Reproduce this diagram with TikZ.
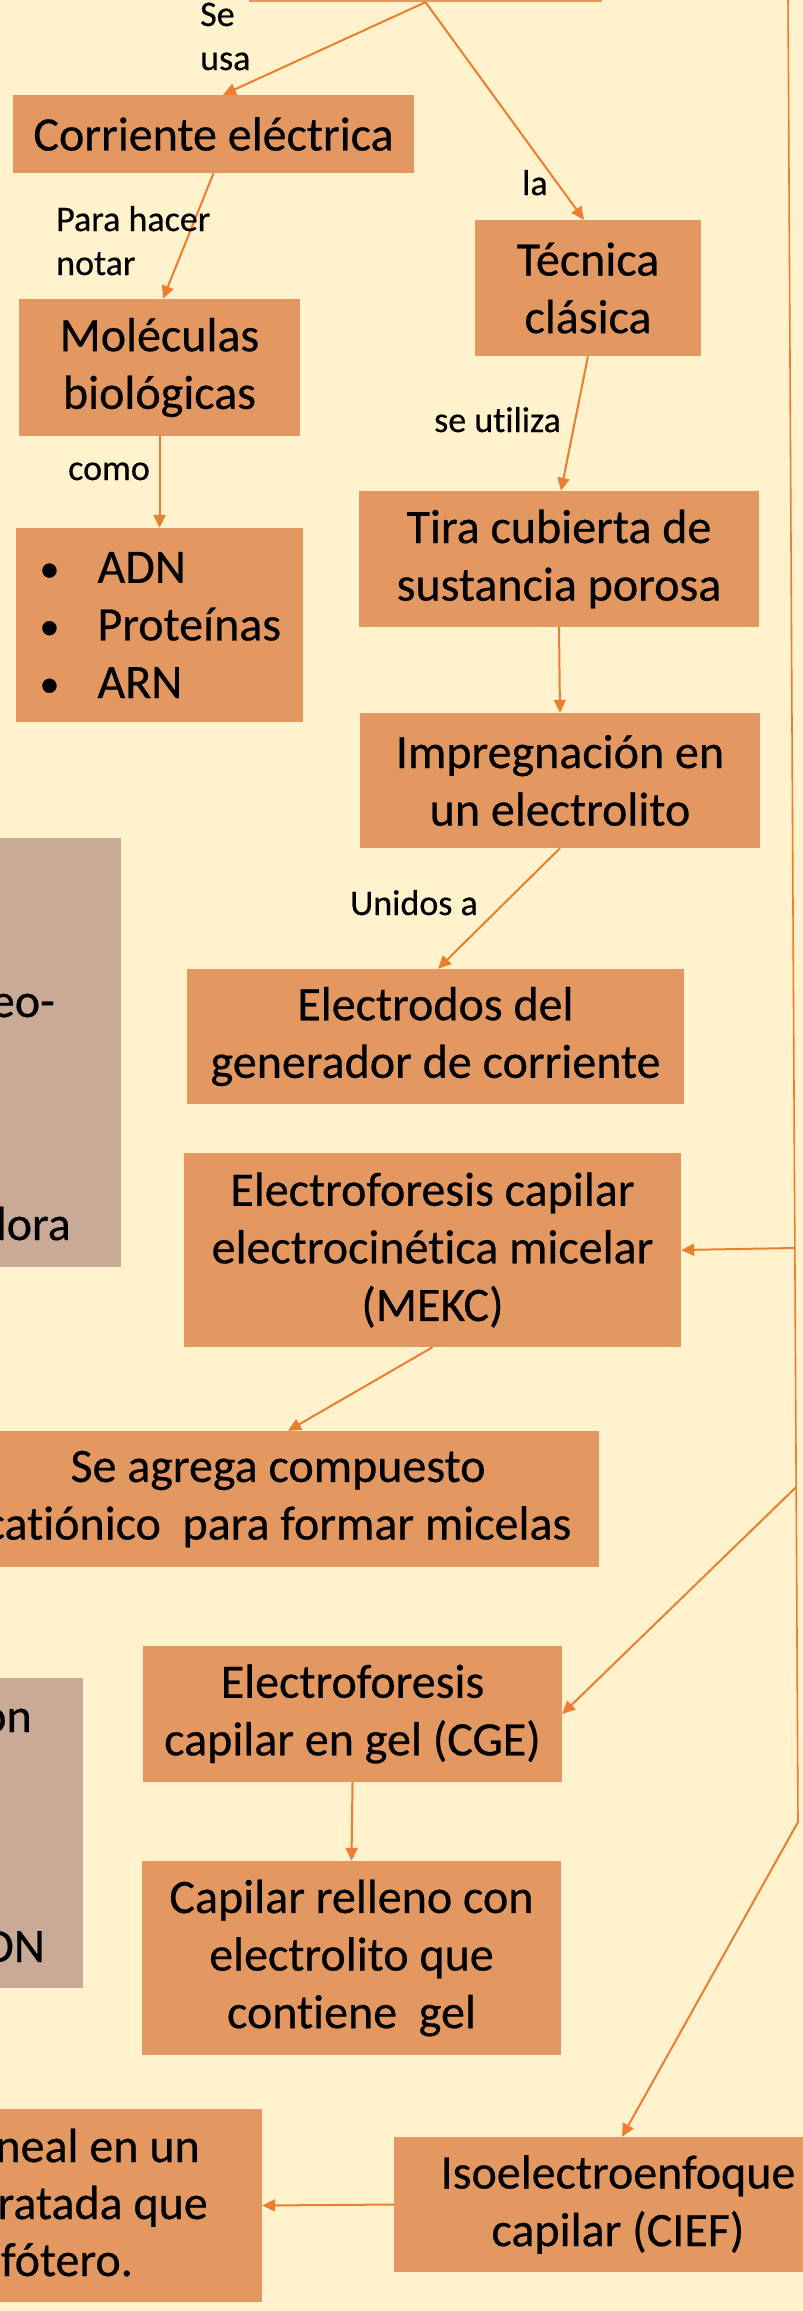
\documentclass[tikz,border=0pt]{standalone}
\usepackage{fontspec}
\setmainfont{Carlito}[Ligatures=NoCommon, FakeBold=0.5]
\usetikzlibrary{arrows.meta}
\definecolor{bg}{HTML}{FFF2CC}
\definecolor{boxc}{HTML}{E29860}
\definecolor{brownc}{HTML}{C9AA96}
\definecolor{linec}{HTML}{ED7D31}
\newcommand{\bul}{\makebox[58pt][l]{\raisebox{1pt}{\fontsize{40}{40}\selectfont •}}}
\begin{document}
\begin{tikzpicture}[x=1pt,y=-1pt,
  box/.style={fill=boxc, draw=none, inner sep=0pt, align=center, font=\fontsize{48}{57.6}\selectfont, text=black},
  brownbox/.style={fill=brownc, draw=none, inner sep=0pt},
  frag/.style={inner sep=0pt, font=\fontsize{48}{57.6}\selectfont, anchor=base east},
  lbl/.style={inner sep=0pt, align=left, font=\fontsize{36}{44}\selectfont, anchor=base west},
  conn/.style={draw=linec, line width=2pt, -{Triangle[length=13pt,width=12pt]}},
  plain/.style={draw=linec, line width=1.6pt}]
\useasboundingbox (0,0) rectangle (803,2311);
\fill[bg] (0,0) rectangle (803,2311);
\clip (0,0) rectangle (803,2311);

\node[box, minimum width=353pt, minimum height=62pt] (top) at (425.5,-29) {};
\node[box, minimum width=401pt, minimum height=78pt] (corr) at (213.5,134) {Corriente eléctrica};
\node[box, minimum width=226pt, minimum height=136pt] (tec) at (588,288) {Técnica\\clásica};
\node[box, minimum width=281pt, minimum height=137pt] (mol) at (159.5,367.5) {Moléculas\\biológicas};
\node[box, minimum width=287pt, minimum height=194pt, text width=240pt, align=left] (adn) at (159.5,625)
  {\bul ADN\\\bul Proteínas\\\bul ARN};
\node[box, minimum width=400pt, minimum height=136pt] (tira) at (559,559) {Tira cubierta de\\sustancia porosa};
\node[box, minimum width=400pt, minimum height=135pt] (imp) at (560,780.5) {Impregnación en\\un electrolito};
\node[box, minimum width=497pt, minimum height=135pt] (elec) at (435.5,1036.5) {Electrodos del\\generador de corriente};
\node[brownbox, minimum width=300pt, minimum height=429pt] (br1) at (-29,1052.5) {};
\node[frag] (br1a) at (55,1017) {eo-};
\node[frag] (br1b) at (71,1240) {dora};
\node[box, minimum width=497pt, minimum height=194pt] (mekc) at (432.5,1250) {Electroforesis capilar\\electrocinética micelar\\(MEKC)};
\node[box, minimum width=642pt, minimum height=136pt] (seag) at (278,1499) {Se agrega compuesto\\catiónico\ \ para formar micelas};
\node[brownbox, minimum width=300pt, minimum height=310pt] (br2) at (-67,1833) {};
\node[frag] (br2a) at (32,1732) {ón};
\node[frag] (br2b) at (45,1962) {DN};
\node[box, minimum width=419pt, minimum height=136pt] (cge) at (352.5,1714) {Electroforesis\\capilar en gel (CGE)};
\node[box, minimum width=419pt, minimum height=194pt] (capi) at (351.5,1958) {Capilar relleno con\\electrolito que\\contiene\ \ gel};
\node[box, minimum width=400pt, minimum height=193pt] (bl) at (62,2205.5) {};
\node[frag] (bla) at (200,2162) {neal en un};
\node[frag] (blb) at (208,2219) {ratada que};
\node[frag] (blc) at (133,2276) {fótero.};
\node[box, minimum width=448pt, minimum height=135pt] (cief) at (618,2204.5) {Isoelectroenfoque\\capilar (CIEF)};

\draw[conn] (top.south) -- ([xshift=9.5pt]corr.north);
\draw[conn] (top.south) -- ([xshift=-4pt]tec.north);
\draw[conn] (corr.south) -- ([xshift=3.5pt]mol.north);
\draw[conn] (mol.south) -- (adn.north);
\draw[conn] (tec.south) -- ([xshift=2pt]tira.north);
\draw[conn] (tira.south) -- (imp.north);
\draw[conn] (imp.south) -- ([xshift=2.5pt]elec.north);
\draw[conn] (mekc.south) -- ([xshift=10pt]seag.north);
\draw[conn] (cge.south) -- (capi.north);
\draw[conn] (cief.west) -- (bl.east);

\coordinate (rtop) at (788,-5);
\coordinate (rbot) at (798,1822);
\coordinate (b1) at (794.8,1248);
\coordinate (b2) at (796.2,1487);
\draw[plain] (rtop) -- (rbot);
\draw[conn] (b1) -- (mekc.east);
\draw[conn] (b2) -- (cge.east);
\draw[conn] (rbot) -- ([xshift=4pt]cief.north);

\node[lbl] (l1) at (200,70) {Se\\usa};
\node[lbl] (l2) at (522,195) {la};
\node[lbl] (l3) at (56,275) {Para hacer\\notar};
\node[lbl] (l4) at (68,480) {como};
\node[lbl] (l5) at (434,432) {se utiliza};
\node[lbl] (l6) at (350,915) {Unidos a};
\end{tikzpicture}
\end{document}
